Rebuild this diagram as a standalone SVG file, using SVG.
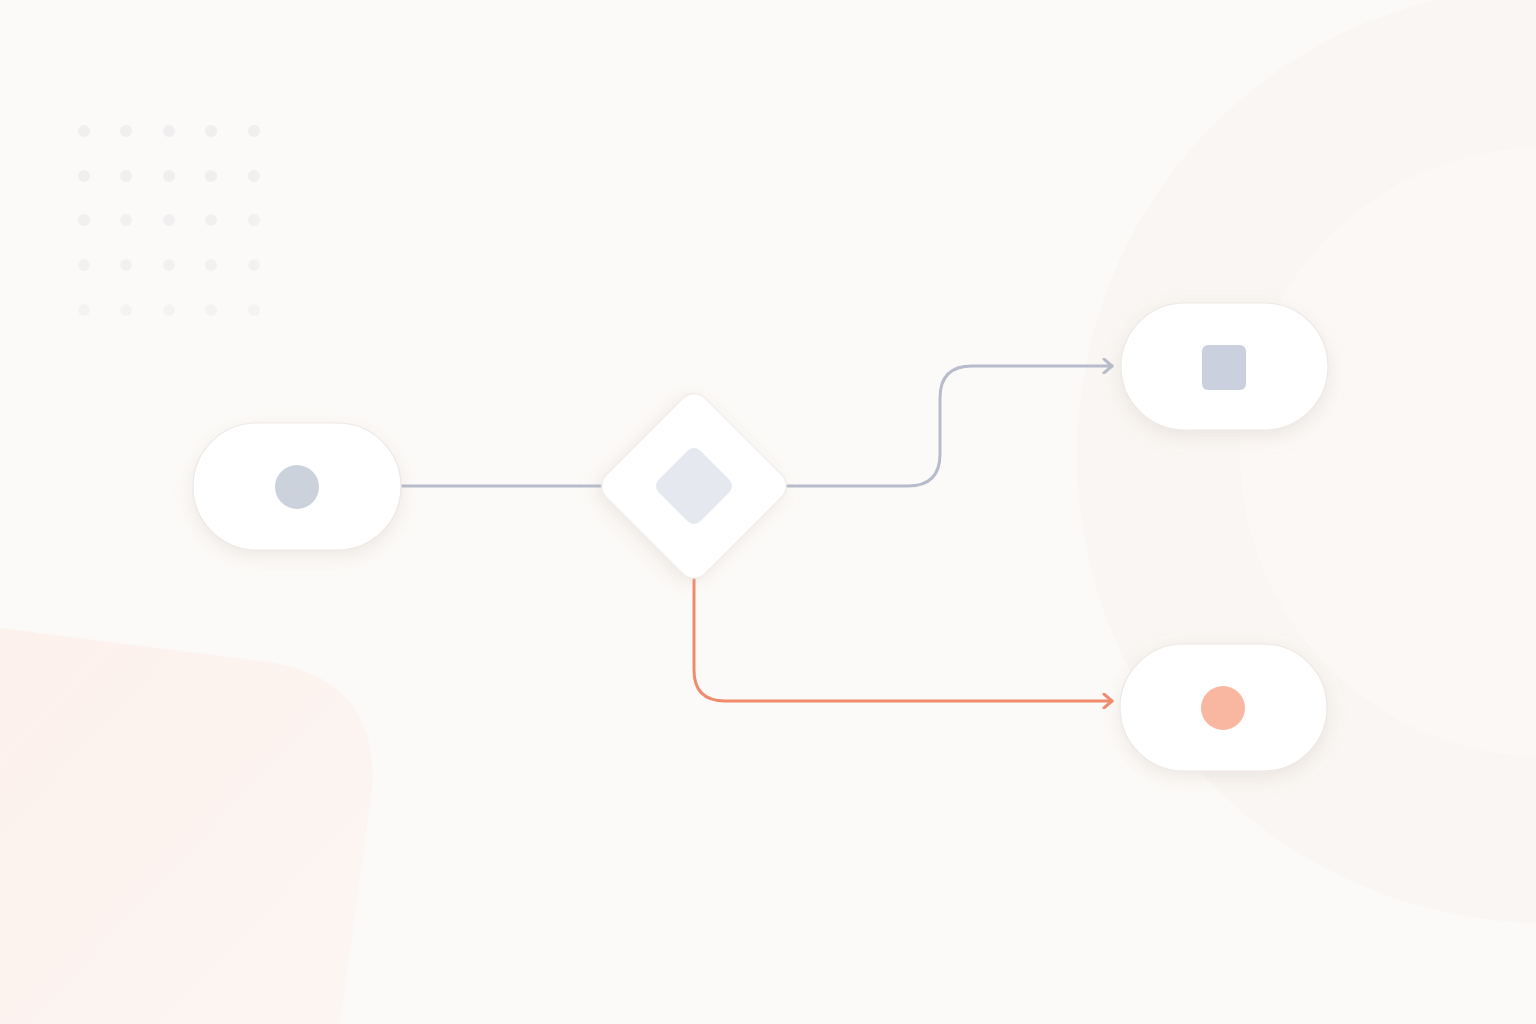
<svg xmlns="http://www.w3.org/2000/svg" width="1536" height="1024" viewBox="0 0 1536 1024">
<defs>
<style>
.node{fill:#ffffff;stroke:#ede8e4;stroke-width:1.2}
.gray{fill:none;stroke:#b6bccb;stroke-width:3;stroke-linecap:round;stroke-linejoin:round}
.orange{fill:none;stroke:#f08b6e;stroke-width:3;stroke-linecap:round;stroke-linejoin:round}
.dot{fill:#f0eeee}
</style>
<filter id="sh" x="-30%" y="-30%" width="160%" height="170%">
<feDropShadow dx="0" dy="6" stdDeviation="9" flood-color="#b8a89a" flood-opacity="0.22"/>
</filter>
<marker id="ag" markerWidth="16" markerHeight="16" refX="12" refY="8" orient="auto" markerUnits="userSpaceOnUse">
<path d="M4,1 L12,8 L4,15" fill="none" stroke="#b6bccb" stroke-width="3" stroke-linecap="round" stroke-linejoin="round"/>
</marker>
<marker id="ao" markerWidth="16" markerHeight="16" refX="12" refY="8" orient="auto" markerUnits="userSpaceOnUse">
<path d="M4,1 L12,8 L4,15" fill="none" stroke="#f08b6e" stroke-width="3" stroke-linecap="round" stroke-linejoin="round"/>
</marker>
<linearGradient id="blg" x1="0" y1="0" x2="1" y2="1">
<stop offset="0" stop-color="#fdf1ec"/>
<stop offset="1" stop-color="#fcf6f3"/>
</linearGradient>
</defs>
<rect width="1536" height="1024" fill="#fcfaf8"/>
<circle cx="1545" cy="455" r="468" fill="#f9f6f3"/>
<circle cx="1545" cy="452" r="305" fill="#fbf8f6"/>
<path d="M0,628 L270,662 Q380,680 372,790 L340,1024 L0,1024 Z" fill="url(#blg)"/>
<g id="dots">
<g opacity="1"><circle class="dot" cx="84" cy="131" r="6"/><circle class="dot" cx="126" cy="131" r="6"/><circle class="dot" cx="169" cy="131" r="6"/><circle class="dot" cx="211" cy="131" r="6"/><circle class="dot" cx="254" cy="131" r="6"/></g>
<g opacity="0.95"><circle class="dot" cx="84" cy="176" r="6"/><circle class="dot" cx="126" cy="176" r="6"/><circle class="dot" cx="169" cy="176" r="6"/><circle class="dot" cx="211" cy="176" r="6"/><circle class="dot" cx="254" cy="176" r="6"/></g>
<g opacity="0.85"><circle class="dot" cx="84" cy="220" r="6"/><circle class="dot" cx="126" cy="220" r="6"/><circle class="dot" cx="169" cy="220" r="6"/><circle class="dot" cx="211" cy="220" r="6"/><circle class="dot" cx="254" cy="220" r="6"/></g>
<g opacity="0.7"><circle class="dot" cx="84" cy="265" r="6"/><circle class="dot" cx="126" cy="265" r="6"/><circle class="dot" cx="169" cy="265" r="6"/><circle class="dot" cx="211" cy="265" r="6"/><circle class="dot" cx="254" cy="265" r="6"/></g>
<g opacity="0.5"><circle class="dot" cx="84" cy="310" r="6"/><circle class="dot" cx="126" cy="310" r="6"/><circle class="dot" cx="169" cy="310" r="6"/><circle class="dot" cx="211" cy="310" r="6"/><circle class="dot" cx="254" cy="310" r="6"/></g>
</g>
<g id="connectors">
<path class="gray" d="M401,486 L604,486"/>
<path class="gray" d="M784,486 L908,486 Q940,486 940,454 L940,398 Q940,366 972,366 L1112,366" marker-end="url(#ag)"/>
<path class="orange" d="M694,577 L694,670 Q694,701 725,701 L1112,701" marker-end="url(#ao)"/>
</g>
<g id="start">
<rect class="node" x="193" y="423" width="208" height="127" rx="63.5" filter="url(#sh)"/>
<circle cx="297" cy="487" r="22" fill="#ccd2dc"/>
</g>
<g id="decision">
<rect class="node" x="624" y="416" width="140" height="140" rx="16" transform="rotate(45 694 486)" filter="url(#sh)"/>
<rect x="664.5" y="456.5" width="59" height="59" rx="9" transform="rotate(45 694 486)" fill="#e5e8ee"/>
</g>
<g id="end-top">
<rect class="node" x="1121" y="303" width="207" height="127" rx="63.5" filter="url(#sh)"/>
<rect x="1202" y="345" width="44" height="45" rx="6" fill="#cbd0de"/>
</g>
<g id="end-bottom">
<rect class="node" x="1120" y="644" width="207" height="127" rx="63.5" filter="url(#sh)"/>
<circle cx="1223" cy="708" r="22" fill="#f9b7a2"/>
</g>
</svg>
